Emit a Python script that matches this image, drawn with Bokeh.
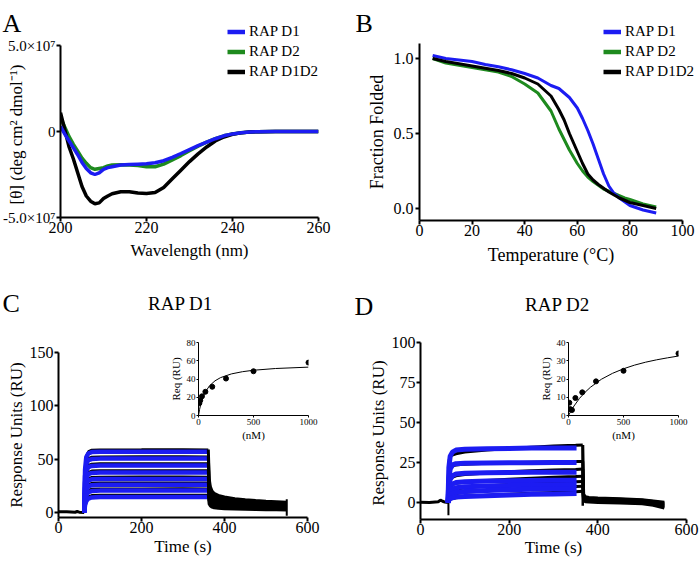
import math
from bokeh.plotting import figure
from bokeh.models import (Range1d, FixedTicker, Legend, LegendItem, Label, GridBox,
                          NumeralTickFormatter)
from bokeh.embed import file_html
from bokeh.resources import INLINE

FONT = "Liberation Serif"
BLUE = "#1c1cf2"
GREEN = "#1e8a1e"
BLACK = "#000000"

# ===================== DATA =====================
# ---- A: CD spectra, [theta] in units of 1e7 deg cm2 dmol-1 ----
cd_wavelength = [200, 201, 202, 203, 204, 205, 206, 207, 208, 209, 210, 211, 212, 214, 216,
                 218, 220, 222, 224, 226, 228, 230, 232, 234, 236, 238, 240, 242, 244, 246,
                 250, 255, 260]
cd_d1 = [0.3, -0.15, -0.55, -0.95, -1.35, -1.8, -2.15, -2.4, -2.5, -2.4, -2.2, -2.1, -2.05,
         -1.95, -1.92, -1.9, -1.88, -1.82, -1.7, -1.5, -1.28, -1.05, -0.82, -0.62, -0.42,
         -0.25, -0.14, -0.07, -0.03, -0.01, 0.0, 0.0, 0.0]
cd_d2 = [0.8, 0.25, -0.3, -0.75, -1.15, -1.55, -1.85, -2.1, -2.2, -2.15, -2.1, -2.0, -1.95,
         -1.93, -1.95, -1.98, -2.05, -2.05, -1.9, -1.65, -1.4, -1.12, -0.85, -0.62, -0.42,
         -0.25, -0.14, -0.07, -0.03, -0.01, 0.0, 0.0, 0.0]
cd_d1d2 = [1.1, 0.1, -0.9, -1.6, -2.4, -3.2, -3.75, -4.05, -4.2, -4.15, -3.9, -3.75, -3.62,
           -3.5, -3.5, -3.58, -3.6, -3.55, -3.25, -2.75, -2.25, -1.75, -1.3, -0.9, -0.55,
           -0.32, -0.16, -0.08, -0.03, -0.01, 0.0, 0.0, 0.0]
cd_yticks = [-5, 0, 5]
cd_ytick_labels = {-5: "-5.0×10⁷", 0: "0", 5: "5.0×10⁷"}
cd_xticks = [200, 220, 240, 260]

# ---- B: thermal melts ----
melt_temp = [5, 10, 15, 20, 25, 30, 35, 40, 45, 50, 53, 55, 57, 60, 62, 64, 66, 68, 70, 72,
             74, 76, 78, 80, 85, 90]
melt_d1 = [1.02, 1.0, 0.99, 0.98, 0.96, 0.945, 0.925, 0.9, 0.87, 0.82, 0.8, 0.77, 0.74, 0.67,
           0.6, 0.52, 0.43, 0.33, 0.23, 0.15, 0.1, 0.07, 0.045, 0.02, -0.01, -0.03]
melt_d2 = [1.0, 0.97, 0.955, 0.94, 0.925, 0.91, 0.88, 0.83, 0.77, 0.65, 0.53, 0.46, 0.39, 0.3,
           0.25, 0.21, 0.18, 0.155, 0.13, 0.115, 0.1, 0.085, 0.07, 0.06, 0.03, 0.01]
melt_d1d2 = [1.0, 0.98, 0.965, 0.95, 0.935, 0.92, 0.9, 0.87, 0.83, 0.75, 0.66, 0.59, 0.5, 0.38,
             0.3, 0.23, 0.19, 0.16, 0.135, 0.11, 0.09, 0.07, 0.055, 0.04, 0.02, 0.0]
melt_xticks = [0, 20, 40, 60, 80, 100]
melt_yticks = [0.0, 0.5, 1.0]

legend_labels = ["RAP D1", "RAP D2", "RAP D1D2"]
legend_colors = [BLUE, GREEN, BLACK]

# ---- C: SPR, RAP D1 ----
c_fit_t = [62, 64, 67, 72, 80, 100, 360]
c_fit_ru = [
    [0, 40, 52, 55.5, 56.6, 57, 57],
    [0, 34, 45.5, 49, 50.1, 50.5, 50.5],
    [0, 28, 39, 42.5, 43.6, 44, 44],
    [0, 23, 32.5, 36, 37.1, 37.5, 37.5],
    [0, 18, 26.5, 30, 31.1, 31.5, 31.5],
    [0, 14, 21, 24.5, 25.6, 26, 26],
    [0, 10.5, 16, 19, 20.1, 20.5, 20.5],
    [0, 7, 10.8, 13, 14.1, 14.5, 14.5],
]
c_assoc_t = [62, 64, 67, 72, 80, 100, 200, 300, 361]
c_assoc_ru = [
    [0, 41, 53.5, 57.5, 58.8, 59.1, 59.2, 59.4, 59.1],
    [0, 35, 47, 51, 52.3, 52.6, 52.7, 52.8, 52.6],
    [0, 29, 40.5, 44.5, 45.8, 46.1, 46.2, 46.2, 46.1],
    [0, 24, 34, 38, 39.3, 39.6, 39.7, 39.7, 39.6],
    [0, 19, 28, 32, 33.3, 33.6, 33.7, 33.7, 33.6],
    [0, 15, 22.5, 26.5, 27.8, 28.1, 28.1, 28.2, 28.1],
    [0, 11.5, 17.5, 21, 22.3, 22.6, 22.6, 22.7, 22.6],
    [0, 8, 12.3, 15, 16.3, 16.6, 16.6, 16.7, 16.6],
]
c_dis_t = [361, 363, 366, 370, 375, 385, 400, 425, 450, 475, 500, 525, 550]
c_dis_ru = [
    [59.1, 32, 24, 20, 18, 16, 14.5, 13, 12, 11.2, 10.5, 10, 9.5],
    [52.6, 28, 21, 17.5, 15.7, 14, 12.7, 11.4, 10.5, 9.8, 9.2, 8.7, 8.3],
    [46.1, 24, 18, 15, 13.5, 12, 11, 9.9, 9.1, 8.5, 8, 7.5, 7.2],
    [39.6, 20.5, 15.4, 12.8, 11.5, 10.3, 9.4, 8.4, 7.8, 7.2, 6.8, 6.4, 6.1],
    [33.6, 17.2, 13, 10.8, 9.6, 8.6, 7.9, 7.1, 6.5, 6.1, 5.7, 5.4, 5.1],
    [28.1, 14.2, 10.7, 8.9, 7.9, 7.1, 6.5, 5.8, 5.4, 5, 4.7, 4.4, 4.2],
    [22.6, 11.2, 8.4, 7, 6.2, 5.6, 5.1, 4.6, 4.2, 3.9, 3.7, 3.5, 3.3],
    [16.6, 7.9, 6, 5, 4.4, 4, 3.6, 3.2, 3, 2.8, 2.6, 2.5, 2.4],
]
c_base_t = [0, 20, 40, 45, 50, 62]
c_base_ru = [0.8, 0.6, 0.2, 0.9, 0.3, 0.0]
c_end_t = [550, 550]
c_end_ru = [12.5, -3]
c_xticks = [0, 200, 400, 600]
c_yticks = [0, 50, 100, 150]

# C inset: equilibrium response
c_conc = [7.8, 15.6, 31.25, 62.5, 125, 250, 500, 1000]
c_req = [13.5, 16.5, 21, 26, 31.5, 40.5, 48.5, 58]
c_curve_conc = [0, 10, 20, 40, 60, 100, 150, 200, 300, 400, 500, 700, 1000]
c_curve_req = [0, 6.7, 12, 19.8, 25.3, 32.6, 38, 41.5, 45.6, 48, 49.6, 51.5, 53]
c_inset_yticks = [0, 20, 40, 60, 80]

# ---- D: SPR, RAP D2 ----
d_fit_t = [62, 64, 67, 72, 80, 100, 150, 200, 250, 300, 352]
d_fit_ru = [
    [0, 22, 29, 31.5, 32.8, 33.3, 33.6, 33.8, 34, 34, 34],
    [0, 15, 21, 23.5, 24.3, 24.6, 24.7, 24.8, 24.9, 25, 25],
    [0, 10, 14.5, 16.7, 17.8, 18.3, 18.6, 18.8, 19, 19, 19],
    [0, 6.5, 9.8, 11.6, 12.5, 13, 13.4, 13.6, 13.8, 14, 14],
    [0, 4.5, 7, 8.4, 9.2, 9.8, 10.3, 10.6, 10.9, 11.1, 11.3],
    [0, 3, 4.7, 5.7, 6.3, 6.9, 7.5, 8, 8.3, 8.6, 8.8],
    [0, 1.5, 2.4, 3, 3.4, 3.8, 4.3, 4.7, 5.1, 5.4, 5.6],
]
d_assoc_t = [62, 63, 65, 70, 80, 100, 150, 200, 250, 300, 350, 366]
d_assoc_ru = [
    [0, 20, 27, 29.5, 30.5, 31.5, 32.8, 33.8, 34.6, 35.3, 35.8, 36],
    [0, 14, 20, 22.5, 23.5, 24, 24.5, 24.8, 25.1, 25.4, 25.6, 25.7],
    [0, 9, 13.5, 15.5, 16.7, 17.5, 18.5, 19.2, 19.8, 20.3, 20.7, 20.9],
    [0, 6, 9, 11, 12, 12.8, 13.8, 14.6, 15.2, 15.8, 16.2, 16.4],
    [0, 4, 6.3, 7.6, 8.5, 9.3, 10.4, 11.2, 11.9, 12.5, 13, 13.2],
    [0, 2.5, 4, 5, 5.7, 6.4, 7.4, 8.2, 8.9, 9.5, 10, 10.2],
    [0, 1, 1.8, 2.4, 3, 3.6, 4.5, 5.2, 5.8, 6.3, 6.8, 7],
]
d_dis_t = [366, 368, 372, 380, 400, 450, 500, 525, 550]
d_dis_ru = [
    [36, 5, 3.6, 3.2, 2.8, 2.3, 1.8, 1.0, 0.2],
    [25.7, 4.2, 3.0, 2.7, 2.4, 2.0, 1.5, 0.7, -0.5],
    [20.9, 3.5, 2.5, 2.2, 2.0, 1.6, 1.1, 0.3, -1.0],
    [16.4, 2.8, 2.0, 1.8, 1.6, 1.2, 0.7, -0.2, -1.6],
    [13.2, 2.2, 1.5, 1.3, 1.1, 0.7, 0.2, -0.7, -2.2],
    [10.2, 1.6, 1.0, 0.8, 0.6, 0.2, -0.3, -1.2, -2.8],
    [7, 1.0, 0.5, 0.3, 0.1, -0.3, -0.8, -1.7, -3.4],
]
d_base_t = [0, 20, 40, 45, 50, 55, 62]
d_base_ru = [0.2, 0.0, 0.5, 1.5, 0.8, 0.3, 0.0]
d_spike_t = [63, 63]
d_spike_ru = [5, -8]
d_drop_t = [366, 366]
d_drop_ru = [36, -2]
d_xticks = [0, 200, 400, 600]
d_yticks = [0, 25, 50, 75, 100]

# D inset
d_conc = [7.8, 15.6, 31.25, 62.5, 125, 250, 500, 1000]
d_req = [7.0, 3.5, 3.0, 9.6, 12.7, 18.7, 24.5, 34.0]
d_curve_conc = [0, 20, 50, 100, 150, 200, 300, 400, 500, 600, 700, 800, 900, 1000]
d_curve_req = [0, 2.2, 5.2, 9.4, 12.7, 15.5, 19.9, 23.1, 25.6, 27.6, 29.2, 30.5, 31.6, 32.6]
d_inset_yticks = [0, 10, 20, 30, 40]
inset_xticks = [0, 500, 1000]


# ===================== HELPERS =====================
def no_align(p):
    if "frame_align" in p.properties():
        p.frame_align = False


def make_fig(w, h, left, right, top, bottom, xr, yr, transparent=False):
    p = figure(width=w, height=h, x_range=Range1d(*xr), y_range=Range1d(*yr),
               min_border_left=left, min_border_right=right,
               min_border_top=top, min_border_bottom=bottom,
               output_backend="svg", toolbar_location=None)
    no_align(p)
    p.outline_line_color = None
    p.xgrid.visible = False
    p.ygrid.visible = False
    if transparent:
        p.background_fill_alpha = 0
        p.border_fill_alpha = 0
    return p


def style_axes(p, tick_size, label_size, lw, tick_out, x_std, x_lab_std, y_std, y_lab_std):
    for ax in list(p.xaxis) + list(p.yaxis):
        ax.axis_line_width = lw
        ax.axis_line_color = BLACK
        ax.major_tick_line_width = lw
        ax.major_tick_line_color = BLACK
        ax.major_tick_in = 0
        ax.major_tick_out = tick_out
        ax.minor_tick_line_color = None
        ax.major_label_text_font = FONT
        ax.major_label_text_font_size = tick_size
        ax.major_label_text_color = BLACK
        ax.axis_label_text_font = FONT
        ax.axis_label_text_font_size = label_size
        ax.axis_label_text_font_style = "normal"
        ax.axis_label_text_color = BLACK
    p.xaxis.major_label_standoff = x_std
    p.xaxis.axis_label_standoff = x_lab_std
    p.yaxis.major_label_standoff = y_std
    p.yaxis.axis_label_standoff = y_lab_std


# ===================== PANEL A =====================
xrA, yrA = (200, 260), (-5, 5)
pA = make_fig(350, 280, 59, 32, 45, 63, xrA, yrA)
pA.line(cd_wavelength, cd_d2, line_color=GREEN, line_width=3.5)
pA.line(cd_wavelength, cd_d1d2, line_color=BLACK, line_width=3.5)
pA.line(cd_wavelength, cd_d1, line_color=BLUE, line_width=3.5)
pA.xaxis.ticker = FixedTicker(ticks=cd_xticks)
pA.yaxis.ticker = FixedTicker(ticks=cd_yticks)
pA.yaxis.major_label_overrides = cd_ytick_labels
pA.xaxis.axis_label = "Wavelength (nm)"
style_axes(pA, "16px", "17px", 2, 4, 0, 5, 1, 2)
pA.yaxis.major_label_text_font_size = "15px"

# ===================== PANEL B =====================
xrB, yrB = (0, 100), (-0.08, 1.1)
pB = make_fig(350, 280, 69, 18, 43, 60, xrB, yrB)
pB.line(melt_temp, melt_d2, line_color=GREEN, line_width=3)
pB.line(melt_temp, melt_d1, line_color=BLUE, line_width=3)
pB.line(melt_temp, melt_d1d2, line_color=BLACK, line_width=3)
pB.xaxis.ticker = FixedTicker(ticks=melt_xticks)
pB.yaxis.ticker = FixedTicker(ticks=melt_yticks)
pB.yaxis.formatter = NumeralTickFormatter(format="0.0")
pB.xaxis.axis_label = "Temperature (°C)"
pB.yaxis.axis_label = "Fraction Folded"
style_axes(pB, "16px", "18px", 2, 4, 0, 6, 2, 4)

# ===================== PANEL C =====================
xrC, yrC = (0, 600), (-4.7, 150)
pC = make_fig(350, 287, 58, 43, 72, 50, xrC, yrC)
pC.line(c_base_t, c_base_ru, line_color=BLACK, line_width=3)
for ys in c_assoc_ru:
    pC.line(c_assoc_t, ys, line_color=BLACK, line_width=2)
for ys in c_fit_ru:
    pC.line(c_fit_t, ys, line_color=BLUE, line_width=4.5)
for ys in c_dis_ru:
    pC.line(c_dis_t, ys, line_color=BLACK, line_width=3)
pC.line(c_end_t, c_end_ru, line_color=BLACK, line_width=2)
pC.xaxis.ticker = FixedTicker(ticks=c_xticks)
pC.yaxis.ticker = FixedTicker(ticks=c_yticks)
pC.xaxis.axis_label = "Time (s)"
pC.yaxis.axis_label = "Response Units (RU)"
style_axes(pC, "16px", "17px", 2, 4, 0, 1, 1, 1)

# C inset
iC = make_fig(154, 108, 32, 12, 6, 29, (0, 1000), (0, 80), transparent=True)
iC.line(c_curve_conc, c_curve_req, line_color=BLACK, line_width=1)
iC.scatter(c_conc, c_req, size=5, color=BLACK)
iC.xaxis.ticker = FixedTicker(ticks=inset_xticks)
iC.yaxis.ticker = FixedTicker(ticks=c_inset_yticks)
iC.xaxis.axis_label = "(nM)"
iC.yaxis.axis_label = "Req (RU)"
style_axes(iC, "9px", "11px", 1, 2, 1, 1, 1, 2)

# ===================== PANEL D =====================
xrD, yrD = (0, 600), (-10.6, 100)
pD = make_fig(350, 287, 70, 14, 62, 48, xrD, yrD)
pD.line(d_base_t, d_base_ru, line_color=BLACK, line_width=3)
pD.line(d_spike_t, d_spike_ru, line_color=BLACK, line_width=2)
for ys in d_assoc_ru:
    pD.line(d_assoc_t, ys, line_color=BLACK, line_width=3)
for ys in d_fit_ru:
    pD.line(d_fit_t, ys, line_color=BLUE, line_width=5)
for ys in d_dis_ru:
    pD.line(d_dis_t, ys, line_color=BLACK, line_width=3)
pD.line(d_drop_t, d_drop_ru, line_color=BLACK, line_width=2.5)
pD.xaxis.ticker = FixedTicker(ticks=d_xticks)
pD.yaxis.ticker = FixedTicker(ticks=d_yticks)
pD.xaxis.axis_label = "Time (s)"
pD.yaxis.axis_label = "Response Units  (RU)"
style_axes(pD, "16px", "17px", 2, 4, 0, 0, 1, 1)

# D inset
iD = make_fig(154, 108, 32, 12, 6, 29, (0, 1000), (0, 40), transparent=True)
iD.line(d_curve_conc, d_curve_req, line_color=BLACK, line_width=1)
iD.scatter(d_conc, d_req, size=5, color=BLACK)
iD.xaxis.ticker = FixedTicker(ticks=inset_xticks)
iD.yaxis.ticker = FixedTicker(ticks=d_inset_yticks)
iD.xaxis.axis_label = "(nM)"
iD.yaxis.axis_label = "Req (RU)"
style_axes(iD, "9px", "11px", 1, 2, 1, 1, 1, 2)

# ============ OVERLAY: panel letters, titles, legends, A's y label ============
ov = figure(width=700, height=567, x_range=Range1d(0, 700), y_range=Range1d(567, 0),
            min_border=0, output_backend="svg", toolbar_location=None,
            x_axis_location=None, y_axis_location=None)
no_align(ov)
ov.outline_line_color = None
ov.xgrid.visible = False
ov.ygrid.visible = False
ov.background_fill_alpha = 0
ov.border_fill_alpha = 0


def ov_label(x, y, text, size, align="left", baseline="alphabetic", angle=0.0):
    ov.add_layout(Label(x=x, y=y, text=text, text_font=FONT, text_font_size=size,
                        text_color=BLACK, text_align=align, text_baseline=baseline,
                        angle=angle))


ov_label(2, 23, "A", "26px")
ov_label(355, 23, "B", "26px")
ov_label(2, 303, "C", "26px")
ov_label(354, 306, "D", "26px")
ov_label(180, 303, "RAP D1", "19px", align="center")
ov_label(557, 304, "RAP D2", "19px", align="center")
ov_label(16, 134, "[θ] (deg cm² dmol⁻¹)", "17px", align="center", baseline="middle",
         angle=math.pi / 2)

# legend proxies: same styles as the curves they stand for, holding no drawable point
nan = float("nan")
proxies = [ov.line([nan], [nan], line_color=c, line_width=4.5) for c in legend_colors]


def add_legend(glyph_left, top):
    items = [LegendItem(label=lab, renderers=[r]) for lab, r in zip(legend_labels, proxies)]
    leg_h = 3 * 17 + 2 * 3
    leg = Legend(items=items, location=(glyph_left, 567 - (top + leg_h)),
                 orientation="vertical", background_fill_alpha=0, border_line_color=None,
                 padding=0, margin=0, spacing=3, glyph_width=18, glyph_height=17,
                 label_height=17, label_standoff=4, label_text_font=FONT,
                 label_text_font_size="15px", label_text_color=BLACK)
    ov.add_layout(leg)


add_legend(227, 23)
add_legend(603, 23)

# ===================== LAYOUT =====================
grid = GridBox(
    children=[(pA, 0, 0, 1, 3), (pB, 0, 3, 1, 3), (pC, 1, 0, 3, 3), (pD, 1, 3, 3, 3),
              (iC, 2, 1, 1, 1), (iD, 2, 4, 1, 1), (ov, 0, 0, 4, 6)],
    cols=["166px", "154px", "30px", "186px", "154px", "10px"],
    rows=["280px", "56px", "108px", "123px"],
    spacing=0)

open("out.html", "w").write(file_html(grid, INLINE))
